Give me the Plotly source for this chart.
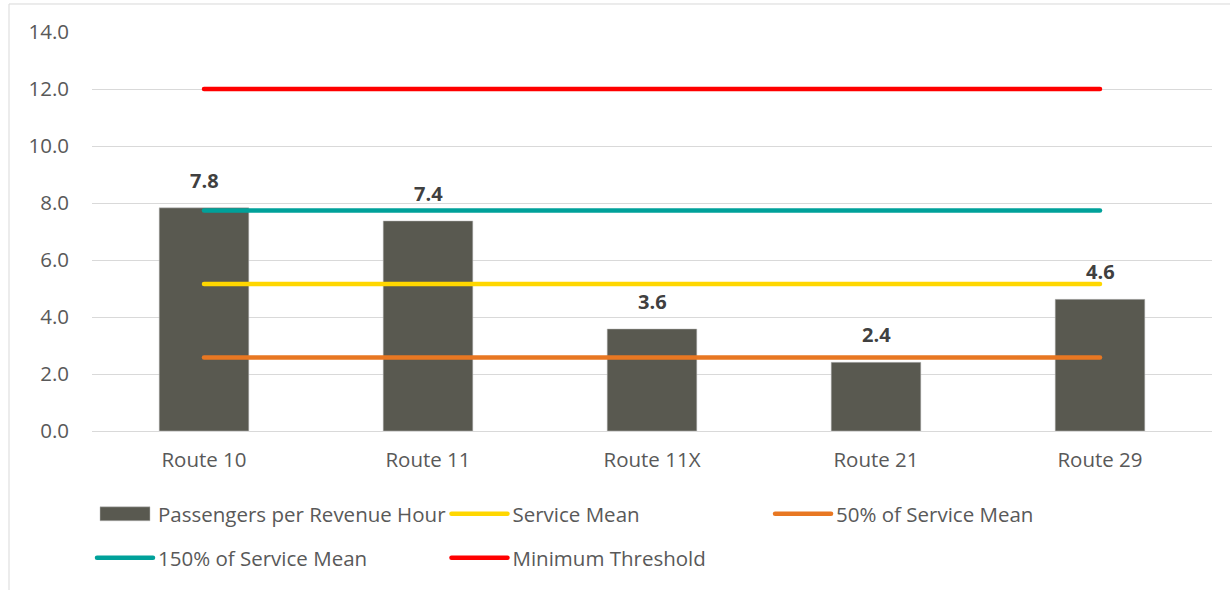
import plotly.graph_objects as go

routes = ["Route 10", "Route 11", "Route 11X", "Route 21", "Route 29"]
passengers = [7.83, 7.37, 3.58, 2.41, 4.62]
service_mean = [5.16, 5.16, 5.16, 5.16, 5.16]
half_mean = [2.58, 2.58, 2.58, 2.58, 2.58]
one_half_mean = [7.74, 7.74, 7.74, 7.74, 7.74]
min_threshold = [12.0, 12.0, 12.0, 12.0, 12.0]
y_ticks = [0, 2, 4, 6, 8, 10, 12, 14]

FONT = "'Open Sans', Lato, sans-serif"
TXT = "#595959"
FS = 20.5

fig = go.Figure()
fig.add_trace(go.Bar(x=routes, y=passengers, name="Passengers per Revenue Hour",
                     marker=dict(color="#595950", line=dict(color="#bfbfbf", width=0.5)),
                     width=0.4, legend="legend"))
fig.add_trace(go.Scatter(x=routes, y=service_mean, name="Service Mean", mode="lines",
                         line=dict(color="#FFD700", width=4.5), legend="legend2"))
fig.add_trace(go.Scatter(x=routes, y=half_mean, name="50% of Service Mean", mode="lines",
                         line=dict(color="#E87722", width=4.5), legend="legend3"))
fig.add_trace(go.Scatter(x=routes, y=one_half_mean, name="150% of Service Mean", mode="lines",
                         line=dict(color="#00A19A", width=4.5), legend="legend4"))
fig.add_trace(go.Scatter(x=routes, y=min_threshold, name="Minimum Threshold", mode="lines",
                         line=dict(color="#FF0000", width=4.5), legend="legend5"))

for r, v in zip(routes, passengers):
    fig.add_annotation(x=r, y=v, text=f"<b>{v:.1f}</b>", showarrow=False,
                       yanchor="bottom", yshift=12,
                       font=dict(family=FONT, size=20, color="#404040"))

def leg(x, y):
    return dict(x=x, y=y, xref="paper", yref="paper", xanchor="left", yanchor="middle",
                orientation="v", font=dict(family=FONT, size=FS, color=TXT),
                bgcolor="rgba(0,0,0,0)", itemwidth=56)

fig.update_layout(
    legend=leg(0.0000, -0.2080),
    legend2=leg(0.3165, -0.2080),
    legend3=leg(0.6054, -0.2080),
    legend4=leg(0.0000, -0.3183),
    legend5=leg(0.3165, -0.3183),
)

fig.add_shape(type="rect", xref="paper", yref="paper",
              x0=-0.0741, x1=1.2, y0=-0.5, y1=1.0702,
              line=dict(color="#d9d9d9", width=1), fillcolor="rgba(0,0,0,0)", layer="below")

fig.update_layout(
    width=1230, height=590,
    margin=dict(l=92, r=18, t=32, b=159),
    paper_bgcolor="white", plot_bgcolor="white",
    font=dict(family=FONT, size=FS, color=TXT),
    bargap=0.6,
    showlegend=True,
    xaxis=dict(showgrid=False, showline=True, linecolor="#d9d9d9", linewidth=1,
               ticks="", tickfont=dict(size=FS, color=TXT), ticklabelstandoff=10),
    yaxis=dict(range=[0, 14], tickvals=y_ticks, ticktext=[f"{t:.1f}" for t in y_ticks],
               showgrid=True, gridcolor="#d9d9d9", gridwidth=1, zeroline=False,
               showline=False, ticks="", tickfont=dict(size=FS, color=TXT),
               ticklabelstandoff=22),
)

post = """
document.body.style.margin='0';
var st=document.createElement('style');
st.textContent='.js-line{stroke-linecap:round !important;} .legendpoints path.legendbar, .legendpoints path.legendundefined{d:path("M25,7H-25V-7H25Z") !important;}';
document.head.appendChild(st);
function fixBar(){
  document.querySelectorAll('.legendpoints path').forEach(function(p){
    if (p.classList.contains('js-line')) return;
    var d = p.getAttribute('d') || '';
    if (d.indexOf('M6,6H-6V-6H6Z') === 0) p.setAttribute('d','M25,7H-25V-7H25Z');
  });
}
fixBar(); setTimeout(fixBar, 50); setTimeout(fixBar, 300);
"""
fig.write_html("out.html", post_script=post, config={"displayModeBar": False})
